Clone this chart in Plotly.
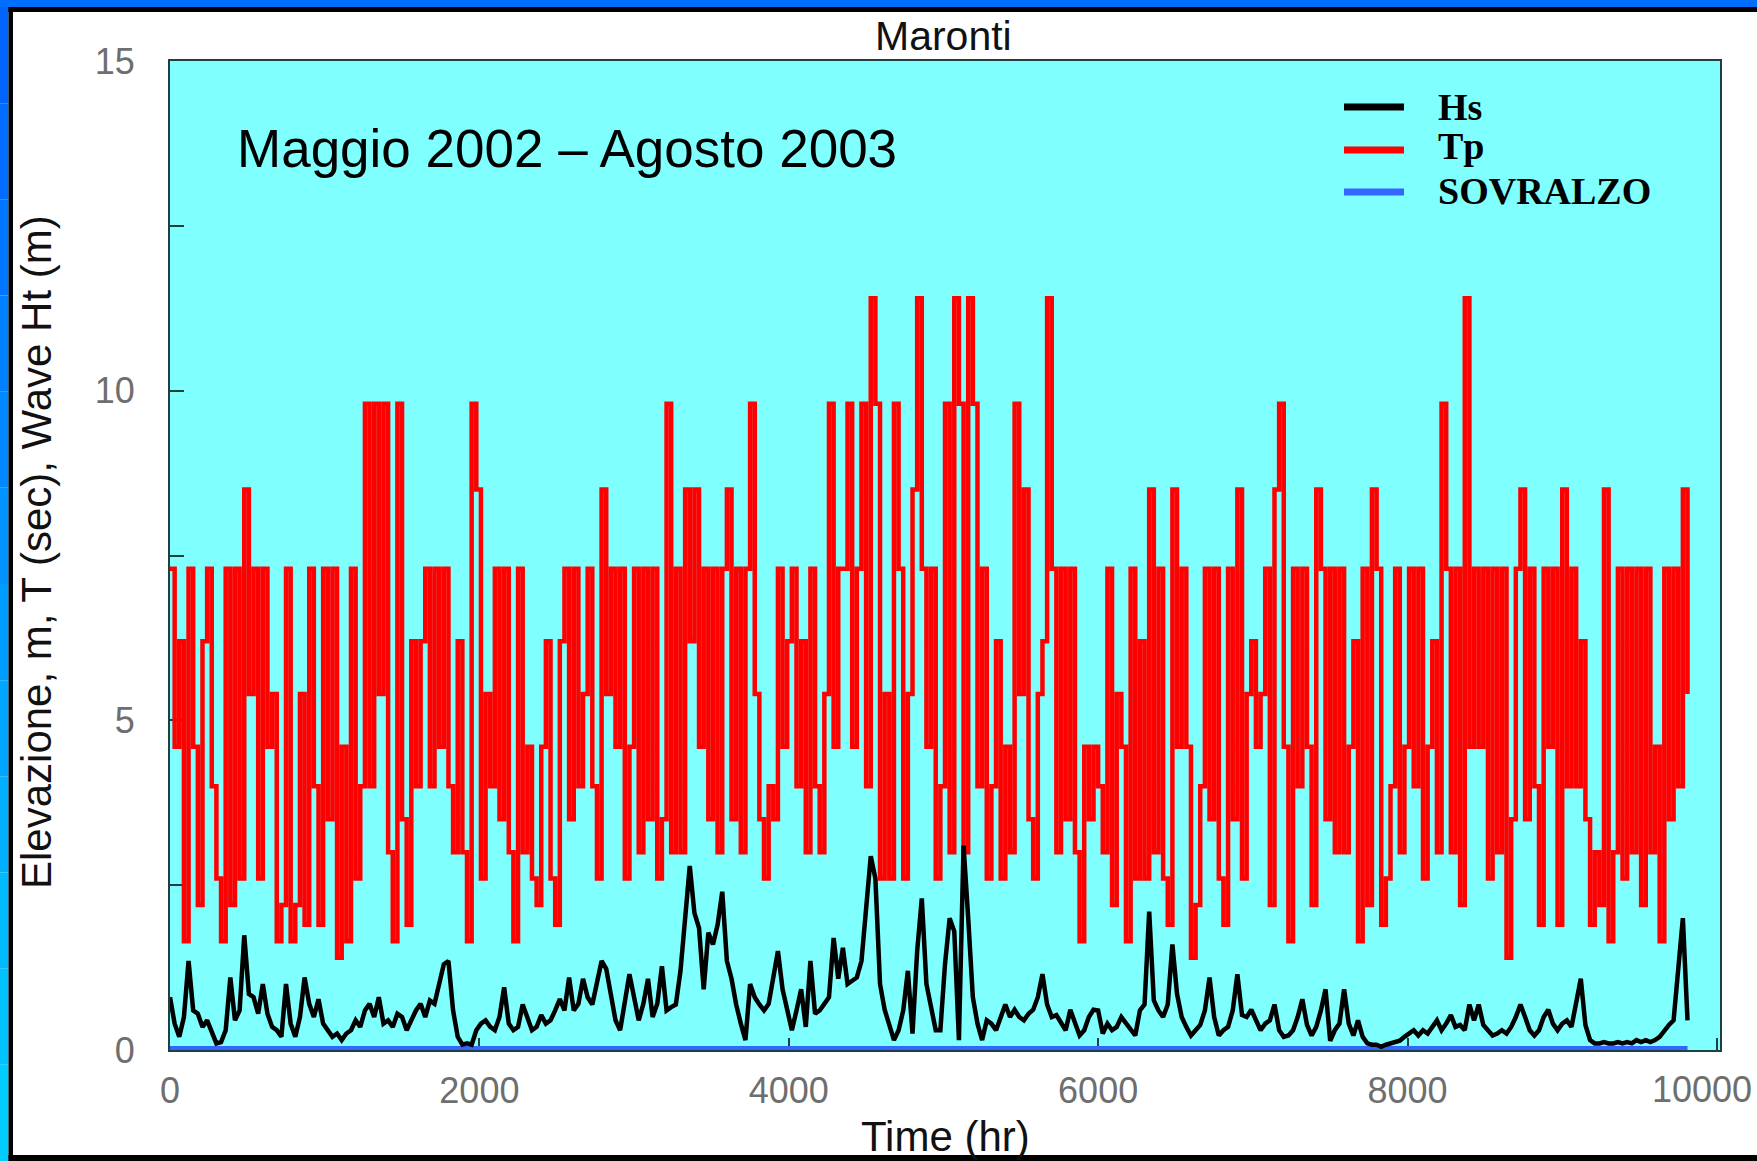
import plotly.graph_objects as go

# ---------------- data ----------------
step_hr = 30  # sampling step of the series, hours

tp_s = [
    7.3, 4.6, 6.2, 1.65, 7.3, 4.6, 2.2, 6.2, 7.3, 4.0,
    2.6, 1.65, 7.3, 2.2, 7.3, 2.6, 8.5, 5.4, 7.3, 2.6,
    7.3, 4.6, 5.4, 1.65, 2.2, 7.3, 1.65, 2.2, 5.4, 1.9,
    7.3, 4.0, 1.9, 7.3, 3.5, 7.3, 1.4, 4.6, 1.65, 7.3,
    2.6, 4.0, 9.8, 4.0, 9.8, 5.4, 9.8, 3.0, 1.65, 9.8,
    3.5, 1.9, 6.2, 4.0, 6.2, 7.3, 4.0, 7.3, 4.6, 7.3,
    4.0, 3.0, 6.2, 3.0, 1.65, 9.8,
    8.5, 2.6, 5.4, 4.0,
    7.3, 3.5, 7.3, 3.0, 1.65, 7.3, 3.0, 4.6, 2.6, 2.2,
    4.6, 6.2, 2.6, 1.9, 6.2, 7.3, 3.5, 7.3, 4.0, 5.4,
    7.3, 4.0, 2.6, 8.5, 5.4, 7.3, 4.6, 7.3, 2.6, 4.6,
    7.3, 3.0, 7.3, 3.5, 7.3, 2.6, 3.5, 9.8, 3.0, 7.3,
    3.0, 8.5, 6.2, 8.5, 4.6, 7.3, 3.5, 7.3, 3.0, 7.3,
    8.5, 3.5, 7.3, 3.0, 7.3, 9.8, 5.4, 3.5, 2.6, 4.0,
    3.5, 7.3, 4.6,
    6.2, 7.3, 4.0, 6.2, 3.0, 7.3, 4.0,
    3.0, 5.4, 9.8, 4.6, 7.3, 7.3, 9.8, 4.6, 7.3, 9.8,
    4.0, 11.4, 9.8, 2.6, 5.4, 2.6, 9.8, 7.3, 2.6, 5.4,
    8.5, 11.4, 7.3, 4.6, 7.3, 2.6, 4.0, 9.8, 3.0, 11.4,
    9.8, 3.0, 11.4, 9.8, 4.0, 7.3, 2.6, 4.0, 6.2, 2.6,
    4.6, 3.0, 9.8, 5.4, 8.5, 3.5, 2.6, 5.4, 6.2, 11.4,
    7.3, 3.0, 7.3, 3.5, 7.3, 3.0, 1.65, 4.6, 3.5, 4.6,
    4.0, 3.0, 7.3, 2.2, 5.4, 4.6, 1.65, 7.3, 2.6, 6.2,
    2.6, 8.5, 3.0, 7.3, 2.6, 1.9, 8.5, 4.6, 7.3, 4.6,
    1.4, 2.2, 4.0, 7.3, 3.5, 7.3, 2.6, 1.9, 7.3, 3.5,
    8.5, 2.6, 5.4, 6.2, 4.6, 5.4, 7.3, 2.2, 8.5, 9.8,
    4.6, 1.65, 7.3, 4.0, 7.3, 4.6, 2.2, 8.5, 7.3, 3.5,
    7.3, 3.0, 7.3, 3.0, 4.6, 6.2, 1.65, 7.3, 2.2, 8.5,
    7.3, 1.9, 2.6, 4.0, 7.3, 3.0,
    4.6, 7.3, 4.0, 7.3,
    2.6, 4.6, 6.2, 3.0, 9.8, 7.3, 3.0, 7.3, 2.2, 11.4,
    4.6, 7.3, 4.6, 7.3, 2.6, 7.3, 3.0, 7.3, 1.4, 3.5,
    7.3, 8.5, 3.5, 7.3, 4.0, 1.9, 7.3, 4.6, 7.3, 1.9,
    8.5, 4.0, 7.3, 4.0, 6.2, 3.5, 1.9, 3.0, 2.2, 8.5,
    1.65, 3.0, 7.3, 2.6, 7.3, 3.0, 7.3, 2.2, 7.3, 3.0,
    4.6, 1.65, 7.3, 3.5, 7.3, 4.0, 8.5, 5.4,
]

hs_m = [
    0.8, 0.4, 0.2, 0.5, 1.35, 0.6, 0.55, 0.35, 0.45, 0.25,
    0.1, 0.12, 0.3, 1.1, 0.45, 0.6, 1.74, 0.85, 0.8, 0.55,
    1.0, 0.55, 0.35, 0.3, 0.2, 1.0, 0.4, 0.2, 0.5, 1.1,
    0.7, 0.5, 0.77, 0.4, 0.3, 0.2, 0.25, 0.15, 0.25, 0.3,
    0.45, 0.35, 0.6, 0.7, 0.5, 0.8, 0.4, 0.45, 0.35, 0.55,
    0.5, 0.3, 0.45, 0.6, 0.7, 0.5, 0.75, 0.7, 1.0, 1.3,
    1.35, 0.6, 0.2, 0.08, 0.1, 0.08,
    0.3, 0.4, 0.45, 0.35,
    0.3, 0.5, 0.95, 0.4, 0.3, 0.35, 0.69, 0.5, 0.3, 0.35,
    0.53, 0.4, 0.45, 0.6, 0.77, 0.6, 1.1, 0.6, 0.7, 1.08,
    0.8, 0.69, 1.0, 1.35, 1.23, 0.8, 0.45, 0.3, 0.7, 1.15,
    0.8, 0.45, 0.7, 1.08, 0.5, 0.7, 1.27, 0.6, 0.65, 0.69,
    1.2, 2.0, 2.79, 2.08, 1.85, 0.92, 1.78, 1.6, 1.9, 2.4,
    1.35, 1.08, 0.69, 0.4, 0.15, 1.0, 0.8, 0.69, 0.6, 0.7,
    1.1, 1.5, 0.92,
    0.6, 0.3, 0.6, 0.92, 0.35, 1.35, 0.55,
    0.6, 0.7, 0.8, 1.7, 1.08, 1.55, 1.0, 1.05, 1.1, 1.35,
    2.1, 2.94, 2.6, 1.0, 0.61, 0.4, 0.15, 0.3, 0.6, 1.2,
    0.25, 1.5, 2.3, 1.0, 0.61, 0.3, 0.3, 1.3, 2.0, 1.8,
    0.15, 3.1, 2.0, 0.8, 0.4, 0.15, 0.45, 0.4, 0.3, 0.5,
    0.69, 0.5, 0.61, 0.5, 0.45, 0.55, 0.61, 0.8, 1.15, 0.69,
    0.5, 0.53, 0.4, 0.3, 0.61, 0.4, 0.22, 0.3, 0.5, 0.61,
    0.6, 0.25, 0.4, 0.3, 0.35, 0.5, 0.4, 0.3, 0.22, 0.6,
    0.69, 2.1, 0.75, 0.6, 0.5, 0.69, 1.6, 0.85, 0.5, 0.35,
    0.22, 0.3, 0.38, 0.6, 1.1, 0.5, 0.22, 0.3, 0.35, 0.6,
    1.15, 0.53, 0.5, 0.61, 0.45, 0.3, 0.4, 0.45, 0.69, 0.3,
    0.2, 0.22, 0.3, 0.5, 0.77, 0.38, 0.22, 0.35, 0.6, 0.92,
    0.14, 0.3, 0.4, 0.92, 0.4, 0.22, 0.45, 0.2, 0.1, 0.08,
    0.08, 0.05, 0.08, 0.1, 0.12, 0.14,
    0.2, 0.25, 0.3, 0.22,
    0.3, 0.25, 0.35, 0.45, 0.3, 0.4, 0.53, 0.35, 0.38, 0.3,
    0.69, 0.45, 0.69, 0.38, 0.3, 0.22, 0.25, 0.3, 0.25, 0.35,
    0.5, 0.69, 0.5, 0.3, 0.22, 0.3, 0.5, 0.61, 0.4, 0.3,
    0.4, 0.45, 0.35, 0.7, 1.08, 0.38, 0.15, 0.1, 0.1, 0.12,
    0.1, 0.1, 0.12, 0.1, 0.12, 0.1, 0.15, 0.12, 0.15, 0.12,
    0.15, 0.2, 0.3, 0.38, 0.45, 1.2, 2.0, 0.45,
]

time_hr = [i * step_hr for i in range(len(tp_s))]

sov_time_hr = [0, 1000, 2000, 3000, 4000, 5000, 6000, 7000, 8000, 9000, 9810]
sov_m = [0.03, 0.03, 0.03, 0.04, 0.04, 0.03, 0.03, 0.03, 0.03, 0.03, 0.03]

x_tick_vals = [0, 2000, 4000, 6000, 8000, 10000]
x_tick_text = ["0", "2000", "4000", "6000", "8000", "10000"]
y_tick_vals = [0, 2.5, 5, 7.5, 10, 12.5, 15]
y_tick_text = ["0", "", "5", "", "10", "", "15"]

legend_names = ["Hs", "Tp", "SOVRALZO"]
legend_colors = ["#000000", "#FF0000", "#3366FF"]

# ---------------- layout geometry ----------------
W, H = 1757, 1161
ML, MR, MT, MB = 170, 37, 61, 111
PW = W - ML - MR
PH = H - MT - MB


def px_x(px):
    return (px - ML) / PW


def px_y(py):
    return (H - MB - py) / PH


SANS = "Liberation Sans, Arial, Helvetica, sans-serif"
SERIF = "Liberation Serif, Times New Roman, serif"
TICK_FONT = dict(family=SANS, size=36, color="#6e6e6e")

fig = go.Figure()
fig.add_trace(go.Scatter(x=time_hr, y=tp_s, mode="lines", name="Tp",
                         line=dict(color="#FF0000", width=4.5, shape="hv"),
                         showlegend=False, hoverinfo="skip"))
fig.add_trace(go.Scatter(x=sov_time_hr, y=sov_m, mode="lines", name="SOVRALZO",
                         line=dict(color="#3366FF", width=4),
                         showlegend=False, hoverinfo="skip"))
fig.add_trace(go.Scatter(x=time_hr, y=hs_m, mode="lines", name="Hs",
                         line=dict(color="#000000", width=4.5),
                         showlegend=False, hoverinfo="skip"))

# the last x label would run past the page edge, so it is drawn as an
# annotation kept just inside the right edge of the page
shown_x_text = x_tick_text[:-1] + [""]

axis_line = "#1f4040"
fig.update_xaxes(range=[0, 10020], tickvals=x_tick_vals, ticktext=shown_x_text,
                 ticks="inside", ticklen=12, tickwidth=2, tickcolor=axis_line,
                 showline=True, linecolor=axis_line, linewidth=2, mirror=True,
                 showgrid=False, zeroline=False, layer="below traces",
                 tickfont=TICK_FONT, ticklabelstandoff=8)
fig.update_yaxes(range=[0, 15], tickvals=y_tick_vals, ticktext=y_tick_text,
                 ticks="inside", ticklen=14, tickwidth=2, tickcolor=axis_line,
                 showline=True, linecolor=axis_line, linewidth=2, mirror=True,
                 showgrid=False, zeroline=False, layer="below traces",
                 tickfont=TICK_FONT, ticklabelstandoff=26)

shapes = []
# outer frame: blue band on top and left, thin black lines
shapes.append(dict(type="rect", xref="paper", yref="paper", x0=px_x(0), x1=px_x(W),
                   y0=px_y(0), y1=px_y(7), fillcolor="#006EFF", line=dict(width=0), layer="above"))
shapes.append(dict(type="rect", xref="paper", yref="paper", x0=px_x(0), x1=px_x(W),
                   y0=px_y(7), y1=px_y(12), fillcolor="#000000", line=dict(width=0), layer="above"))
nseg = 12
for k in range(nseg):
    f = k / (nseg - 1)
    g = int(100 + f * 104)
    shapes.append(dict(type="rect", xref="paper", yref="paper",
                       x0=px_x(0), x1=px_x(8.5),
                       y0=px_y(7 + k * (H - 7) / nseg), y1=px_y(7 + (k + 1) * (H - 7) / nseg),
                       fillcolor="rgb(0,%d,255)" % g, line=dict(width=0), layer="above"))
shapes.append(dict(type="rect", xref="paper", yref="paper", x0=px_x(8.5), x1=px_x(13),
                   y0=px_y(7), y1=px_y(H), fillcolor="#000000", line=dict(width=0), layer="above"))
shapes.append(dict(type="rect", xref="paper", yref="paper", x0=px_x(8.5), x1=px_x(W),
                   y0=px_y(1155), y1=px_y(H), fillcolor="#000000", line=dict(width=0), layer="above"))

# legend line samples
legend_y = [107, 150, 192]
for name, col, yy in zip(legend_names, legend_colors, legend_y):
    shapes.append(dict(type="line", xref="paper", yref="paper",
                       x0=px_x(1344), x1=px_x(1404), y0=px_y(yy), y1=px_y(yy),
                       line=dict(color=col, width=7)))

annotations = []
legend_text_y = [107, 146, 191]
for name, yy in zip(legend_names, legend_text_y):
    annotations.append(dict(text="<b>%s</b>" % name, xref="paper", yref="paper",
                            x=px_x(1436), y=px_y(yy), xanchor="left", yanchor="middle",
                            showarrow=False, font=dict(family=SERIF, size=38, color="#000000")))

annotations.append(dict(text=x_tick_text[-1], xref="paper", yref="paper",
                        x=px_x(1754), y=px_y(1089), xanchor="right", yanchor="middle",
                        showarrow=False, font=TICK_FONT))

annotations.append(dict(text="Maronti", xref="paper", yref="paper", x=px_x(943), y=px_y(36),
                        xanchor="center", yanchor="middle", showarrow=False,
                        font=dict(family=SANS, size=41, color="#111111")))
annotations.append(dict(text="Maggio 2002 \u2013 Agosto 2003", xref="paper", yref="paper",
                        x=px_x(235), y=px_y(148), xanchor="left", yanchor="middle",
                        showarrow=False, font=dict(family=SANS, size=53, color="#000000")))
annotations.append(dict(text="Time (hr)", xref="paper", yref="paper", x=px_x(945), y=px_y(1136),
                        xanchor="center", yanchor="middle", showarrow=False,
                        font=dict(family=SANS, size=42, color="#111111")))
annotations.append(dict(text="Elevazione, m, T (sec), Wave Ht (m)", xref="paper", yref="paper",
                        x=px_x(36), y=px_y(552), xanchor="center", yanchor="middle",
                        textangle=-90, showarrow=False,
                        font=dict(family=SANS, size=42, color="#111111")))

fig.update_layout(width=W, height=H, autosize=False,
                  margin=dict(l=ML, r=MR, t=MT, b=MB, pad=0),
                  paper_bgcolor="#FFFFFF", plot_bgcolor="#80FFFF",
                  showlegend=False, shapes=shapes, annotations=annotations)

fig.write_html("out.html", config={"displayModeBar": False},
               post_script=("document.documentElement.style.overflow='hidden';"
                            "document.body.style.overflow='hidden';"
                            "document.body.style.margin='0';"))
